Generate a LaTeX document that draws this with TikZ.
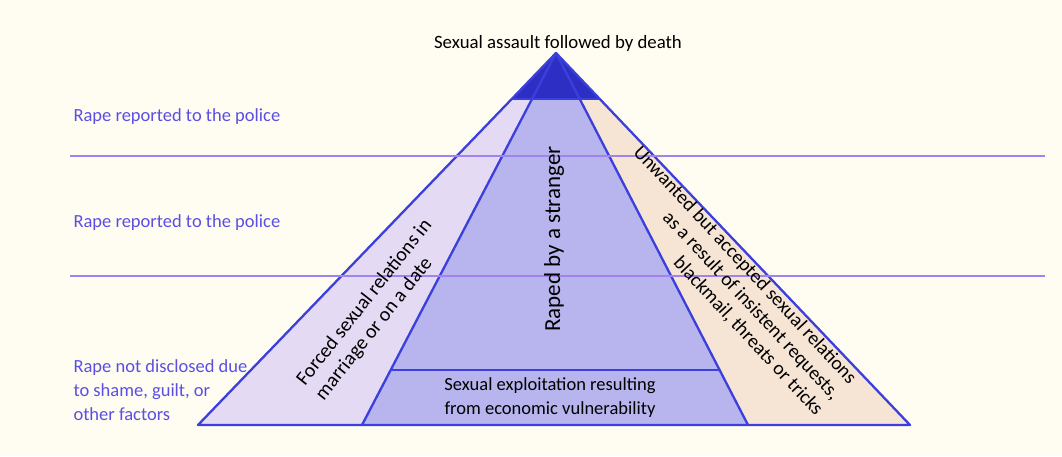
\documentclass[tikz,border=0pt]{standalone}
\usepackage{fontspec}
\setmainfont{Carlito}
\usetikzlibrary{calc}

\definecolor{cream}{HTML}{FFFDF2}
\definecolor{lilac}{HTML}{E4DAF3}
\definecolor{periwinkle}{HTML}{B7B4EE}
\definecolor{peach}{HTML}{F6E4D4}
\definecolor{capblue}{HTML}{2D2EC4}
\definecolor{edgeblue}{HTML}{3B3FDB}
\definecolor{levelpurple}{HTML}{A083F0}
\definecolor{labelblue}{HTML}{5B4FE3}

\begin{document}
\begin{tikzpicture}[x=1pt,y=1pt,
    edge/.style={edgeblue,line width=2.3pt,line join=round},
    level/.style={levelpurple,line width=2.8pt},
    tag/.style={labelblue,font=\fontsize{18.5}{24}\selectfont,anchor=west,align=left},
    says/.style={black,font=\fontsize{18.5}{24}\selectfont}]
        \fill [cream] (0,0) rectangle (1062,456);
        \useasboundingbox (0,0) rectangle (1062,456);

        \coordinate (A) at (556,403);
        \coordinate (BL) at (198,31);
        \coordinate (BR) at (910,31);
        \coordinate (IL) at (362,31);
        \coordinate (IR) at (748,31);

        \fill [lilac] (A) -- (BL) -- (IL) -- cycle;
        \fill [periwinkle] (A) -- (IL) -- (IR) -- cycle;
        \fill [peach] (A) -- (IR) -- (BR) -- cycle;
        \fill [capblue] (A) -- ($(A)!0.124!(BL)$) -- ($(A)!0.124!(BR)$) -- cycle;

        \draw [edge] (A) -- (IL);
        \draw [edge] (A) -- (IR);
        \draw [edge] ($(A)!0.124!(BL)$) -- ($(A)!0.124!(BR)$);
        \draw [edge] ($(A)!0.852!(IL)$) -- ($(A)!0.852!(IR)$);
        \draw [edge] (A) -- (BL) -- (BR) -- cycle;

        \draw [level] (70,300) -- (1045,300);
        \draw [level] (70,180) -- (1045,180);

        \node [says,font=\fontsize{18.8}{22}\selectfont] (death) at (558,413) {Sexual assault followed by death};
        \node [tag] (police) at (70,339) {Rape reported to the police};
        \node [tag] (reported) at (70,233) {Rape reported to the police};
        \node [tag] (hidden) at (70,66) {Rape not disclosed due\\to shame, guilt, or\\other factors};

        \node [says,align=center] (economic) at (550,58)
            {Sexual exploitation resulting\\from economic vulnerability};
        \node [says,rotate=90,font=\fontsize{23}{24}\selectfont] (stranger) at (554,217) {Raped by a stranger};
        \node [says,rotate=51.6,align=left,font=\fontsize{20}{24}\selectfont] (forced) at (374,146)
            {Forced sexual relations in\\marriage or on a date};
        \node [says,rotate=-47,align=right,font=\fontsize{19.5}{23}\selectfont] (unwanted) at (728,175)
            {Unwanted but accepted sexual relations\\as a result of insistent requests,\\blackmail, threats or tricks};
    \end{tikzpicture}
\end{document}
